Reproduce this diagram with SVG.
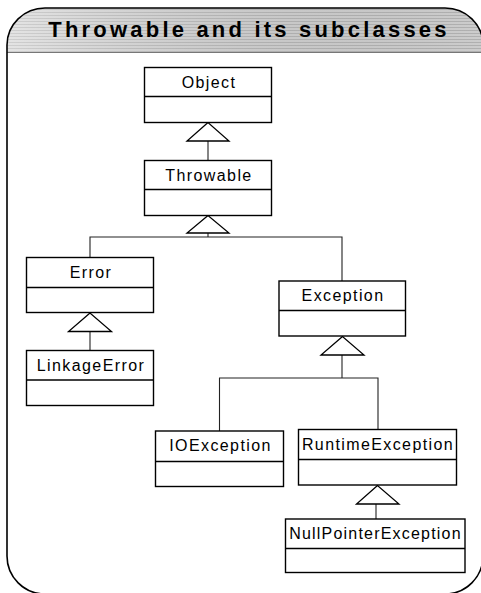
<svg xmlns="http://www.w3.org/2000/svg" width="481" height="593" viewBox="0 0 481 593">
  <defs>
    <pattern id="stripes" width="8" height="3" patternUnits="userSpaceOnUse">
      <rect width="8" height="3" fill="#dadada"/>
      <rect width="8" height="1" fill="#bcbcbc"/>
    </pattern>
    <linearGradient id="shade" x1="0" y1="0" x2="1" y2="0">
      <stop offset="0" stop-color="#ffffff" stop-opacity="0.3"/>
      <stop offset="1" stop-color="#000000" stop-opacity="0.06"/>
    </linearGradient>
    <clipPath id="frameClip">
      <path d="M7,45 A38,37 0 0 1 45,8 L445,8 A38,37 0 0 1 483,45 L483,556 A38,38 0 0 1 445,594 L45,594 A38,38 0 0 1 7,556 Z"/>
    </clipPath>
  </defs>
  <style>
    .box { fill: #ffffff; stroke: #000000; stroke-width: 1.4; }
    .div { stroke: #000000; stroke-width: 1.4; }
    .lbl { font-family: "Liberation Sans", Arial, sans-serif; font-size: 16px; letter-spacing: 1.4px; text-anchor: middle; fill: #000000; }
    .title { font-family: "Liberation Sans", Arial, sans-serif; font-size: 22px; font-weight: bold; letter-spacing: 3.2px; text-anchor: middle; fill: #000000; }
    .conn { fill: none; stroke: #222222; stroke-width: 1.1; }
    .tri { fill: #ffffff; stroke: #000000; stroke-width: 1.3; }
  </style>

  <rect width="481" height="593" fill="#ffffff"/>

  <g id="frame">
    <g clip-path="url(#frameClip)">
      <rect x="0" y="0" width="490" height="52" fill="url(#stripes)"/>
      <rect x="0" y="0" width="490" height="52" fill="url(#shade)"/>
      <line x1="0" y1="52.5" x2="490" y2="52.5" stroke="#777777" stroke-width="1.2"/>
    </g>
    <path d="M7,45 A38,37 0 0 1 45,8 L445,8 A38,37 0 0 1 483,45 L483,556 A38,38 0 0 1 445,594 L45,594 A38,38 0 0 1 7,556 Z" fill="none" stroke="#000000" stroke-width="1.6"/>
    <text class="title" x="249" y="37">Throwable and its subclasses</text>
  </g>

  <g id="connectors">
    <line class="conn" x1="208" y1="141" x2="208" y2="160"/>
    <polygon class="tri" points="208,122.5 187,141 229,141"/>

    <polyline class="conn" points="208,233 208,237"/>
    <polyline class="conn" points="90,257.5 90,237 342,237 342,281"/>
    <polygon class="tri" points="208,215.5 187,233 229,233"/>

    <line class="conn" x1="90" y1="331.5" x2="90" y2="350.5"/>
    <polygon class="tri" points="90,313 68.5,331.5 111.5,331.5"/>

    <polyline class="conn" points="342,355 342,378"/>
    <polyline class="conn" points="219.5,431 219.5,378 378,378 378,429.5"/>
    <polygon class="tri" points="342.5,336.5 321,355 364,355"/>

    <line class="conn" x1="376" y1="504" x2="376" y2="519"/>
    <polygon class="tri" points="377.5,485.5 356.5,504 399,504"/>
  </g>

  <g id="object">
    <rect class="box" x="144.5" y="67.5" width="127" height="55"/>
    <line class="div" x1="144.5" y1="96.5" x2="271.5" y2="96.5"/>
    <text class="lbl" x="209" y="87.5">Object</text>
  </g>

  <g id="throwable">
    <rect class="box" x="144.5" y="160.5" width="127" height="55"/>
    <line class="div" x1="144.5" y1="189.5" x2="271.5" y2="189.5"/>
    <text class="lbl" x="209" y="180.5">Throwable</text>
  </g>

  <g id="error">
    <rect class="box" x="26.5" y="257.5" width="127" height="55"/>
    <line class="div" x1="26.5" y1="287.5" x2="153.5" y2="287.5"/>
    <text class="lbl" x="91" y="277.5">Error</text>
  </g>

  <g id="linkageerror">
    <rect class="box" x="26.5" y="350.5" width="127" height="55"/>
    <line class="div" x1="26.5" y1="380" x2="153.5" y2="380"/>
    <text class="lbl" x="91" y="370.5">LinkageError</text>
  </g>

  <g id="exception">
    <rect class="box" x="279" y="281" width="126.5" height="55"/>
    <line class="div" x1="279" y1="310.5" x2="405.5" y2="310.5"/>
    <text class="lbl" x="343" y="301">Exception</text>
  </g>

  <g id="ioexception">
    <rect class="box" x="155.5" y="431" width="128" height="55.5"/>
    <line class="div" x1="155.5" y1="461.5" x2="283.5" y2="461.5"/>
    <text class="lbl" x="220.5" y="451">IOException</text>
  </g>

  <g id="runtimeexception">
    <rect class="box" x="298.5" y="429.5" width="158" height="55.5"/>
    <line class="div" x1="298.5" y1="459.5" x2="456.5" y2="459.5"/>
    <text class="lbl" x="378" y="449.5">RuntimeException</text>
  </g>

  <g id="nullpointerexception">
    <rect class="box" x="285.5" y="519" width="179.5" height="53.5"/>
    <line class="div" x1="285.5" y1="548.5" x2="465" y2="548.5"/>
    <text class="lbl" x="375.5" y="539" style="letter-spacing:1.2px">NullPointerException</text>
  </g>
</svg>
